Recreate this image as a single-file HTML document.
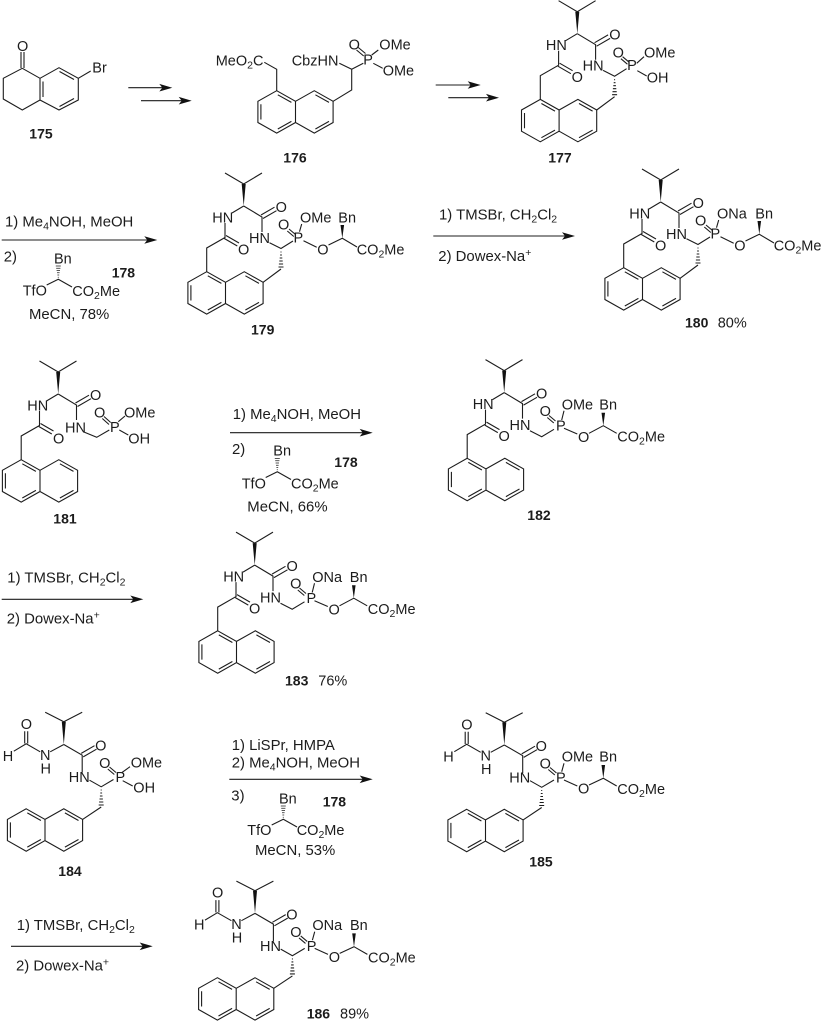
<!DOCTYPE html>
<html><head><meta charset="utf-8"><title>Scheme</title>
<style>
html,body{margin:0;padding:0;background:#fff}
svg{display:block}
text{font-family:"Liberation Sans",sans-serif;font-size:14.5px;fill:#1c1c1c}
text.b{font-weight:bold;font-size:14px}
text.r{font-size:14.9px}
tspan.s{font-size:10.5px}
.l{fill:none;stroke:#1c1c1c;stroke-width:1.1}
.f{fill:#111;stroke:none}
</style></head><body>
<svg width="824" height="1024" viewBox="0 0 824 1024" xmlns="http://www.w3.org/2000/svg">
<defs>
<g id="n" class="l"><path d="M0,0L18.8,10.6V31.8L0,42.4L-18.8,31.8V10.6ZM18.8,10.6L37.6,0L56.4,10.6V31.8L37.6,42.4L18.8,31.8M-15.8,13.6V28.8M1.1,4.1L14.7,11.7M14.7,30.7L1.1,38.3M38.7,4.1L52.3,11.7M52.3,30.7L38.7,38.3"/></g>
<path id="hd" class="l" d="M-.5,3H.5M-.9,6H.9M-1.3,9H1.3M-1.7,12H1.7M-2.1,15H2.1M-2.5,18H2.5"/>
<g id="pep">
<path class="l" d="M225,173L243.7,184L262,173M243.7,206L232,213M243.7,206L262,217V232M225,223V237.5L206.7,248V271.7M261,215L274.5,207.2M263,218.5L276.5,210.7M226,235.5L239,243M224.3,238.5L237.3,246"/>
<polygon class="f" points="243.7,206 241.7,184 245.7,184"/>
<use href="#n" x="206.7" y="271.7"/>
</g>
<g id="mac">
<use href="#pep"/>
<path class="l" d="M269.5,242.7L281,248.5L293,241M281,269L263.1,282.3M289,229L295.5,234.5M287.3,231L293.8,236.5"/>
<use href="#hd" x="281" y="249"/>
</g>
<g id="r179">
<path class="l" d="M299.5,231.7L301.7,224M303.5,240.7L316.7,247.3M328.5,245L342.3,238.3L357,247"/>
<polygon class="f" points="342.3,238.3 340.5,225 344.1,225"/>
</g>
<g id="gly">
<use href="#pep" transform="translate(260.5,186.6)"/>
<path class="l" d="M530,430.7L541.7,436.7L554,429.3M549,415.5L555.5,421M547.3,417.5L553.8,423M561.7,420L564,410.7M564,428.3L577.3,434M589,433.3L603.3,425.7L616.7,433.3"/>
<polygon class="f" points="603.3,425.7 601.5,412.7 605.1,412.7"/>
</g>
<g id="fp">
<path class="l" d="M485.7,712.7L504.3,722.3L522.7,712.7M504.3,745L490.7,752.3M504.3,745L522.7,755.7V773M521.7,753.9L535,746.2M523.7,757.4L537,749.7M530,780.7L541.7,787.3L554,780M541.7,807.5L523.1,819.9M480.7,752.3L466.7,744.3L454.3,751.7M465.2,744V731.7M468.2,744V731.7M550,767.5L556.5,773M548.3,769.5L554.8,775"/>
<polygon class="f" points="504.3,745 502.3,722.3 506.3,722.3"/>
<use href="#hd" x="541.7" y="787.5"/>
<use href="#n" x="466.7" y="809.3"/>
</g>
<g id="fr">
<path class="l" d="M561.7,771.7L564,763.3M564,780L577.3,786M589,785L603.3,778.3L616.7,786"/>
<polygon class="f" points="603.3,778.3 601.5,765 605.1,765"/>
</g>
<g id="tf">
<path class="l" d="M46.7,285L58.3,279.3L72,287"/>
<use href="#hd" transform="translate(58.3,279.5) scale(1,-.75)"/>
</g>
<polygon id="ah" class="f" points="0,0 -13,-3.8 -10,0 -13,3.8"/>
</defs>

<!-- 175 -->
<path class="l" d="M21,52V68M24,52V68M22.3,68.3L40,78.3L59,67.7L78.3,78.3V100L59,110L40,100V78.3M22.3,68.3L3.3,78.3V99L22.3,110L40,100M43,81.5V97M59.5,71.5L74,79.5M74,98.5L59.5,106.5M78.3,78.3L90.7,71"/>
<text x="17" y="51">O</text><text x="92.3" y="72.3">Br</text>
<text class="b" x="29.3" y="138.7">175</text>

<!-- arrows top -->
<path class="l" d="M128.3,87.7H165M141,100.7H184M435.7,85H473M448.3,97.7H491"/>
<use href="#ah" x="172.3" y="87.7"/><use href="#ah" x="191.7" y="100.7"/>
<use href="#ah" x="480.7" y="85"/><use href="#ah" x="499" y="97.7"/>

<!-- 176 -->
<path class="l" d="M264.3,62.3L276.7,69.3V90.7M339.3,63.3L351.7,69.3L363.3,63.3M351.7,69.3V90L333.1,101.3M358.3,47.5L365.5,53.5M356.5,50L363.7,56M371.7,55L378.3,50M373.3,63.3L382.7,68.3"/>
<use href="#n" x="276.7" y="90.7"/>
<text x="215.7" y="65.7">MeO<tspan class="s" dy="3">2</tspan><tspan dy="-3">C</tspan></text>
<text x="291.7" y="65.7">CbzHN</text>
<text x="363.3" y="64.3">P</text><text x="348.6" y="49.6">O</text>
<text x="379.3" y="49.3">OMe</text><text x="382.7" y="75.7">OMe</text>
<text class="b" x="283.3" y="162.7">176</text>

<!-- 177 -->
<use href="#mac" transform="translate(333.6,-172.3)"/>
<path class="l" d="M636.7,63.3L644,56.7M637.3,70.7L646.7,76"/>
<g transform="translate(333.6,-172.3)">
<text x="212.3" y="222.3">HN</text><text x="275.6" y="212">O</text><text x="249" y="243">HN</text><text x="238" y="254.5">O</text><text x="293.5" y="242.5">P</text><text x="279" y="229.6">O</text>
</g>
<text x="644" y="57.3">OMe</text><text x="646.7" y="82.7">OH</text>
<text class="b" x="548.3" y="162.7">177</text>

<!-- 179 -->
<use href="#mac"/><use href="#r179"/>
<text x="212.3" y="222.3">HN</text><text x="275.6" y="212">O</text><text x="249" y="243">HN</text><text x="238" y="254.5">O</text><text x="293.5" y="242.5">P</text><text x="278" y="229.3">O</text>
<text x="300" y="222.7">OMe</text><text x="317.3" y="254.5">O</text><text x="338.3" y="222.7">Bn</text>
<text x="356.7" y="254.7">CO<tspan class="s" dy="3">2</tspan><tspan dy="-3">Me</tspan></text>
<text class="b" x="251" y="334.3">179</text>

<!-- arrow 179 + reagents -->
<path class="l" d="M1.7,240H150"/><use href="#ah" x="157.3" y="240"/>
<text class="r" x="5" y="226.7">1) Me<tspan class="s" dy="3">4</tspan><tspan dy="-3">NOH, MeOH</tspan></text>
<text class="r" x="3.7" y="261.7">2)</text><text x="54" y="263.3">Bn</text><text class="b" x="111.7" y="277.7">178</text>
<use href="#tf"/>
<text x="22.7" y="295.7">TfO</text>
<text x="72.3" y="296">CO<tspan class="s" dy="3">2</tspan><tspan dy="-3">Me</tspan></text>
<text class="r" x="29" y="319">MeCN, 78%</text>

<!-- arrow 180 + reagents -->
<path class="l" d="M433.3,236H568"/><use href="#ah" x="575" y="236"/>
<text class="r" x="439" y="219.3">1) TMSBr, CH<tspan class="s" dy="3">2</tspan><tspan dy="-3">Cl</tspan><tspan class="s" dy="3">2</tspan></text>
<text class="r" x="438.3" y="261">2) Dowex-Na<tspan class="s" dy="-5">+</tspan></text>

<!-- 180 -->
<g transform="translate(417,-4)">
<use href="#mac"/><use href="#r179"/>
<text x="212.3" y="222.3">HN</text><text x="275.6" y="212">O</text><text x="249" y="243">HN</text><text x="238" y="254.5">O</text><text x="293.5" y="242.5">P</text><text x="278" y="229.3">O</text>
<text x="300" y="222.7">ONa</text><text x="317.3" y="254.5">O</text><text x="338.3" y="222.7">Bn</text>
<text x="356.7" y="254.7">CO<tspan class="s" dy="3">2</tspan><tspan dy="-3">Me</tspan></text>
</g>
<text class="b" x="685" y="327.3">180</text><text x="717.7" y="327.3">80%</text>

<!-- 181 -->
<use href="#pep" transform="translate(-185.5,188)"/>
<path class="l" d="M83.3,431.7L96.7,437.3L109.3,430M104,416.5L110.7,422.5M102.3,418.5L109,424.5M118.3,421.7L125,416M119.3,430L128.3,435"/>
<text x="27.3" y="410.5">HN</text><text x="90" y="400">O</text><text x="65" y="432.5">HN</text><text x="53" y="443.5">O</text>
<text x="110" y="432">P</text><text x="94" y="417.5">O</text><text x="124" y="417.3">OMe</text><text x="128.3" y="443.3">OH</text>
<text class="b" x="53.3" y="523.3">181</text>

<!-- arrow 182 + reagents -->
<path class="l" d="M230,432.7H365"/><use href="#ah" x="372.7" y="432.7"/>
<text class="r" x="232.7" y="419">1) Me<tspan class="s" dy="3">4</tspan><tspan dy="-3">NOH, MeOH</tspan></text>
<text class="r" x="232" y="454">2)</text><text x="273.3" y="455.7">Bn</text><text class="b" x="334.3" y="467">178</text>
<use href="#tf" transform="translate(219,192.5)"/>
<text x="241.7" y="488.3">TfO</text>
<text x="291" y="488.3">CO<tspan class="s" dy="3">2</tspan><tspan dy="-3">Me</tspan></text>
<text class="r" x="247.3" y="511.7">MeCN, 66%</text>

<!-- 182 -->
<use href="#gly"/>
<g>
<text x="472.7" y="409">HN</text><text x="536" y="398.6">O</text><text x="509.5" y="430">HN</text><text x="498.5" y="441">O</text>
<text x="556" y="430.7">P</text><text x="539.6" y="416">O</text><text x="578" y="442">O</text>
<text x="561.7" y="409.3">OMe</text><text x="599.3" y="409.3">Bn</text>
<text x="617.3" y="441.7">CO<tspan class="s" dy="3">2</tspan><tspan dy="-3">Me</tspan></text>
</g>
<text class="b" x="527.3" y="520">182</text>

<!-- arrow 183 + reagents -->
<path class="l" d="M1.7,599.3H136"/><use href="#ah" x="143.3" y="599.3"/>
<text class="r" x="7.3" y="582.7">1) TMSBr, CH<tspan class="s" dy="3">2</tspan><tspan dy="-3">Cl</tspan><tspan class="s" dy="3">2</tspan></text>
<text class="r" x="6.7" y="623.3">2) Dowex-Na<tspan class="s" dy="-5">+</tspan></text>

<!-- 183 -->
<g transform="translate(-249.5,172.5)">
<use href="#gly"/>
<text x="472.7" y="409">HN</text><text x="536" y="398.6">O</text><text x="509.5" y="430">HN</text><text x="498.5" y="441">O</text>
<text x="556" y="430.7">P</text><text x="539.6" y="416">O</text><text x="578" y="442">O</text>
<text x="561.7" y="409.3">ONa</text><text x="599.3" y="409.3">Bn</text>
<text x="617.3" y="441.7">CO<tspan class="s" dy="3">2</tspan><tspan dy="-3">Me</tspan></text>
</g>
<text class="b" x="285" y="685.7">183</text><text x="318.3" y="685.7">76%</text>

<!-- 184 -->
<g transform="translate(-440.5,-.5)">
<use href="#fp"/>
<text x="461.3" y="729.3">O</text><text x="443.3" y="761.3">H</text><text x="480.5" y="760.7">N</text><text x="481" y="774">H</text>
<text x="535.6" y="751">O</text><text x="509.3" y="782.7">HN</text><text x="556" y="782.7">P</text><text x="539.6" y="768.6">O</text>
</g>
<path class="l" d="M121.7,772.7L130,766.7M122.7,780.7L132.7,786"/>
<text x="130.7" y="767.3">OMe</text><text x="133.3" y="792.7">OH</text>
<text class="b" x="58.3" y="876">184</text>

<!-- arrow 185 + reagents -->
<path class="l" d="M229.3,779.3H365"/><use href="#ah" x="372.7" y="779.3"/>
<text class="r" x="231.7" y="750">1) LiSPr, HMPA</text>
<text class="r" x="231.7" y="767.3">2) Me<tspan class="s" dy="3">4</tspan><tspan dy="-3">NOH, MeOH</tspan></text>
<text class="r" x="231.3" y="800.7">3)</text><text x="279" y="803.3">Bn</text><text class="b" x="322.7" y="806.7">178</text>
<use href="#tf" transform="translate(225,540)"/>
<text x="247.3" y="835">TfO</text>
<text x="296.7" y="835">CO<tspan class="s" dy="3">2</tspan><tspan dy="-3">Me</tspan></text>
<text class="r" x="255" y="855">MeCN, 53%</text>

<!-- 185 -->
<use href="#fp"/><use href="#fr"/>
<text x="461.3" y="729.3">O</text><text x="443.3" y="761.3">H</text><text x="480.5" y="760.7">N</text><text x="481" y="774">H</text>
<text x="535.6" y="751">O</text><text x="509.3" y="782.7">HN</text><text x="556" y="782.7">P</text><text x="539.6" y="768.6">O</text>
<text x="561.7" y="761.7">OMe</text><text x="578" y="793.6">O</text><text x="599.3" y="761.7">Bn</text>
<text x="617.3" y="794">CO<tspan class="s" dy="3">2</tspan><tspan dy="-3">Me</tspan></text>
<text class="b" x="529.3" y="866.7">185</text>

<!-- arrow 186 + reagents -->
<path class="l" d="M11,946.3H145"/><use href="#ah" x="152.7" y="946.3"/>
<text class="r" x="16.7" y="930">1) TMSBr, CH<tspan class="s" dy="3">2</tspan><tspan dy="-3">Cl</tspan><tspan class="s" dy="3">2</tspan></text>
<text class="r" x="16" y="970.7">2) Dowex-Na<tspan class="s" dy="-5">+</tspan></text>

<!-- 186 -->
<g transform="translate(-249.3,168.4)">
<use href="#fp"/><use href="#fr"/>
<text x="461.3" y="729.3">O</text><text x="443.3" y="761.3">H</text><text x="480.5" y="760.7">N</text><text x="481" y="774">H</text>
<text x="535.6" y="751">O</text><text x="509.3" y="782.7">HN</text><text x="556" y="782.7">P</text><text x="539.6" y="768.6">O</text>
<text x="561.7" y="761.7">ONa</text><text x="578" y="793.6">O</text><text x="599.3" y="761.7">Bn</text>
<text x="617.3" y="794">CO<tspan class="s" dy="3">2</tspan><tspan dy="-3">Me</tspan></text>
</g>
<text class="b" x="306.7" y="1018.3">186</text><text x="340" y="1018.3">89%</text>
</svg>
</body></html>
